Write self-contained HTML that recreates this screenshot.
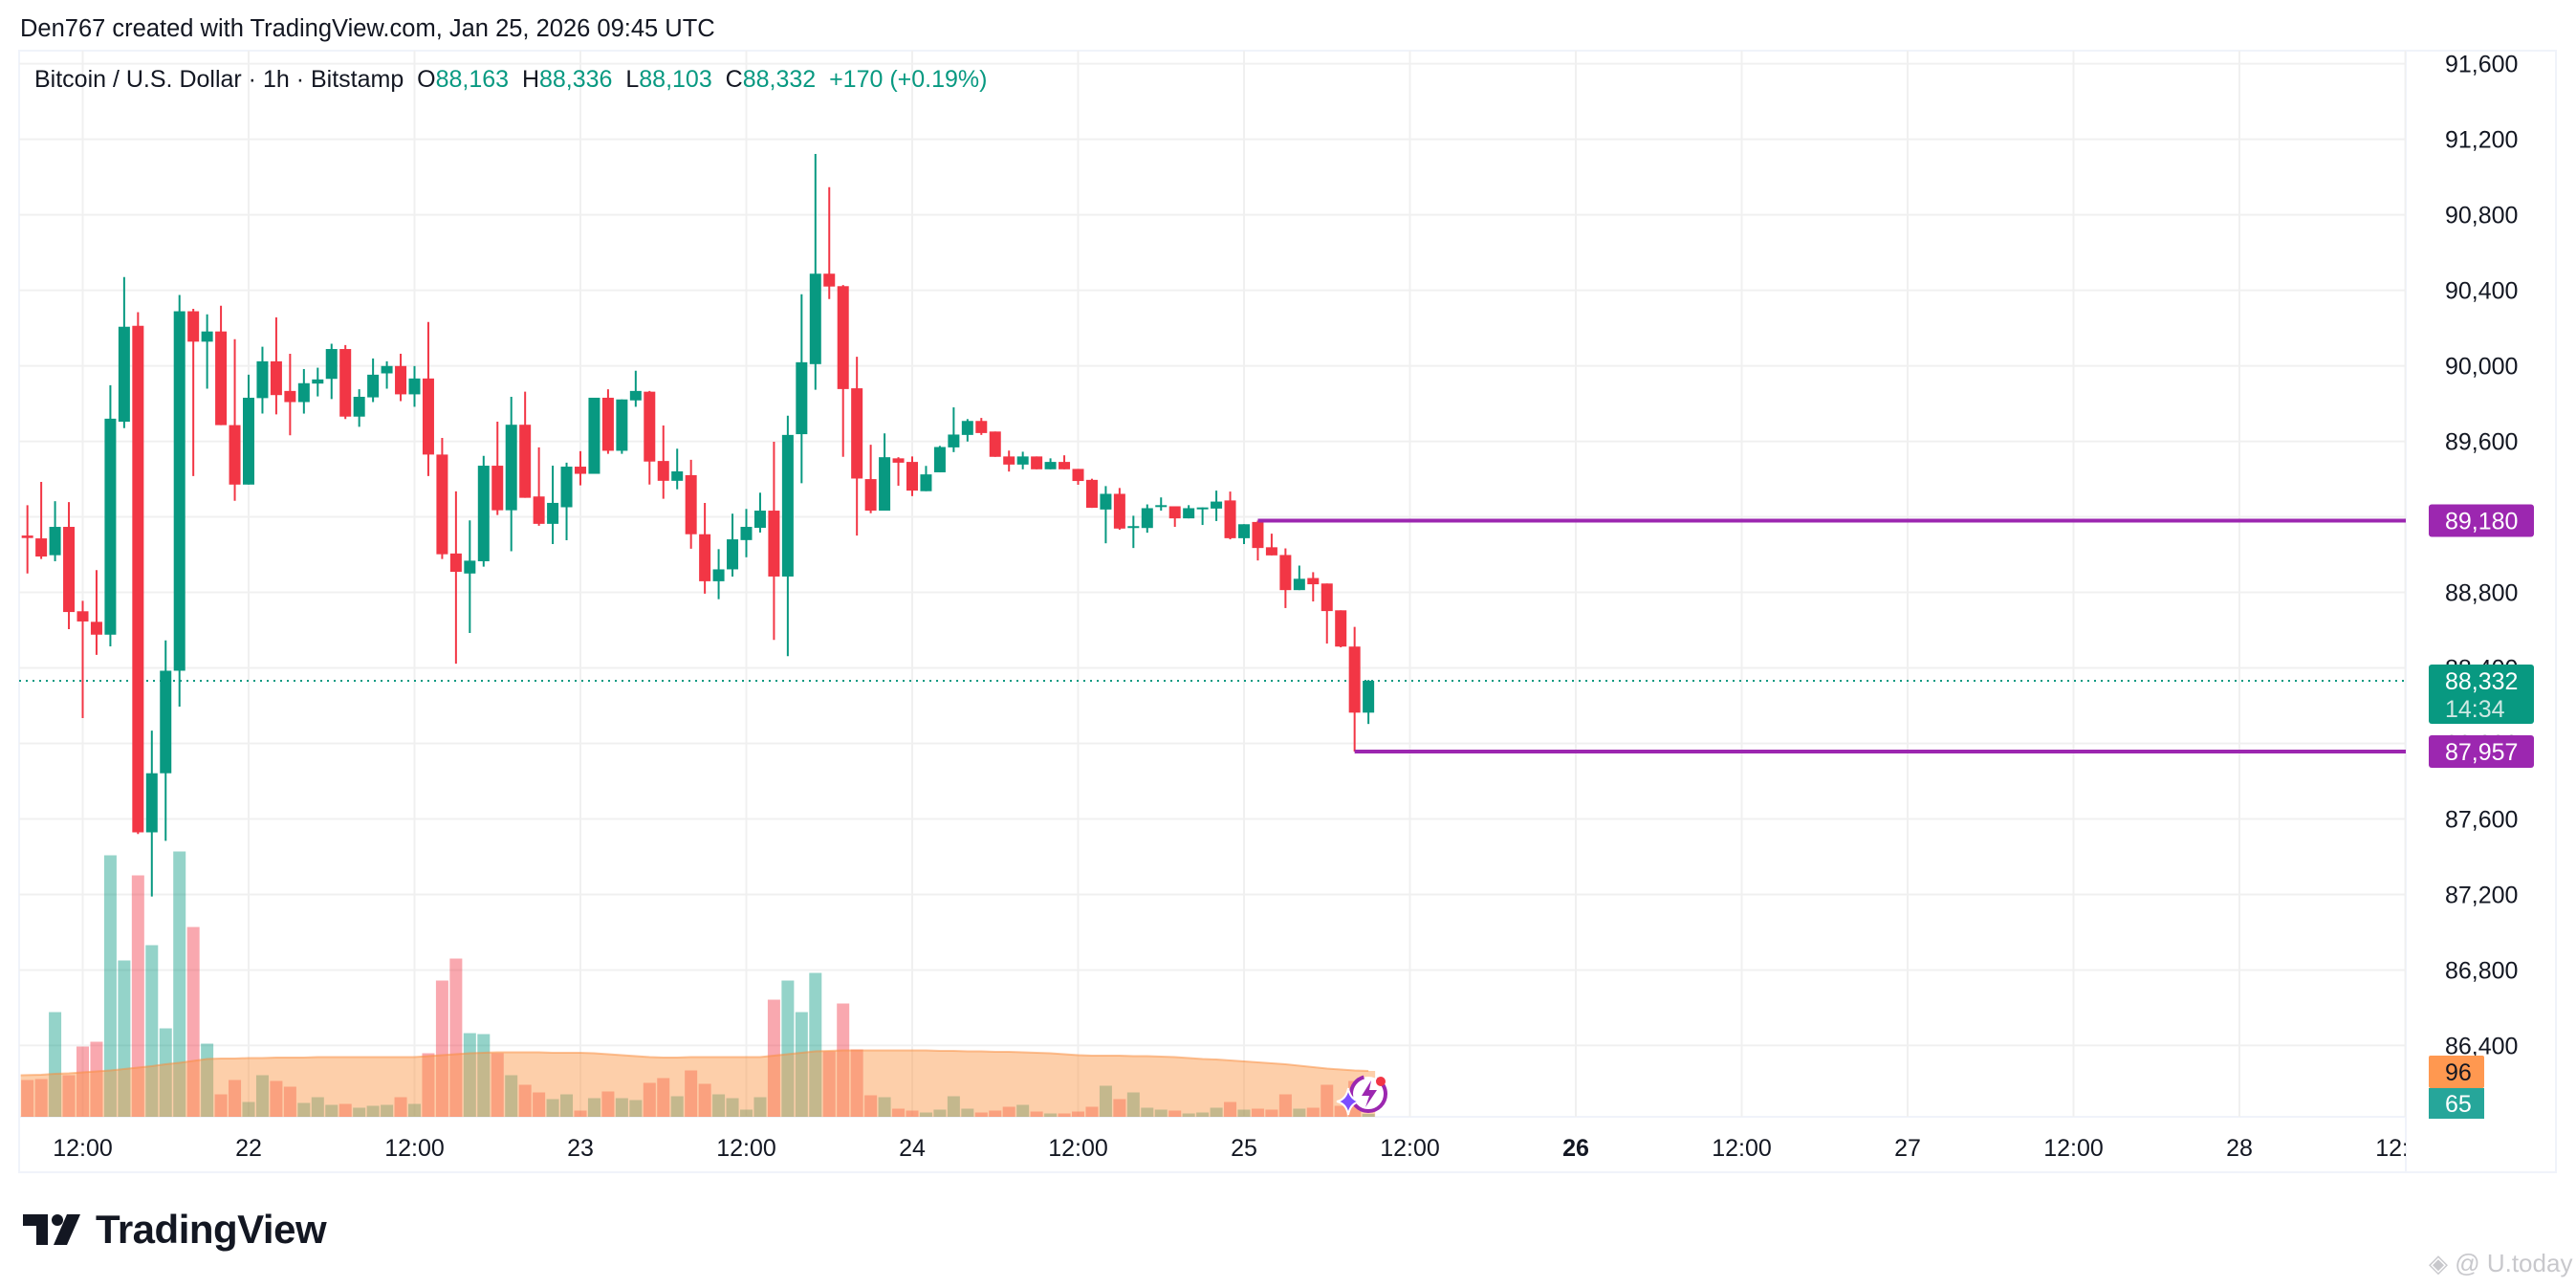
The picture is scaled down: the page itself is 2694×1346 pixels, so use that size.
<!DOCTYPE html>
<html><head><meta charset="utf-8"><title>BTCUSD 1h</title>
<style>
html,body{margin:0;padding:0;background:#fff;}
body{width:2694px;height:1346px;overflow:hidden;position:relative;font-family:"Liberation Sans",sans-serif;color:#131722;}
#hdr{position:absolute;left:21px;top:16px;font-size:25.5px;color:#131722;white-space:nowrap;}
#legend{position:absolute;left:36px;top:69px;font-size:25px;white-space:nowrap;}
#legend .g{color:#089981}
#logo{position:absolute;left:24px;top:1262px;display:flex;align-items:center;}
#logo span{font-size:42px;font-weight:bold;letter-spacing:-0.5px;margin-left:14px;}
#wm{position:absolute;left:2540px;top:1306px;font-size:26px;color:#c8c8cc;white-space:nowrap;}
</style></head><body>
<div id="hdr">Den767 created with TradingView.com, Jan 25, 2026 09:45 UTC</div>
<svg id="chart" width="2694" height="1346" style="position:absolute;left:0;top:0"></svg>
<div id="legend">Bitcoin / U.S. Dollar · 1h · Bitstamp&nbsp;&nbsp;O<span class="g">88,163</span>&nbsp;&nbsp;H<span class="g">88,336</span>&nbsp;&nbsp;L<span class="g">88,103</span>&nbsp;&nbsp;C<span class="g">88,332</span>&nbsp;&nbsp;<span class="g">+170 (+0.19%)</span></div>
<div id="logo">
<svg width="62" height="32" viewBox="0 0 62 32"><path d="M0 0H26V32H14V12H0Z" fill="#131722"/><circle cx="36" cy="6" r="6" fill="#131722"/><path d="M46 0H60L46 32H32Z" fill="#131722"/></svg><span>TradingView</span></div>
<div id="wm">◈ @ U.today</div>
<script>
const opens=[89101,89086,88997,89147,88700,88644,88576,89704,90212,87529,87842,88385,90289,90128,90182,89686,89371,89829,90024,89867,89808,89906,89931,90089,89731,89833,89960,89999,89849,89933,89530,89006,88900,88965,89471,89235,89688,89308,89163,89251,89466,89428,89831,89550,89817,89863,89496,89391,89421,89108,88859,88922,89077,89142,89233,88884,89638,90009,90488,90422,89881,89400,89233,89510,89491,89336,89436,89568,89634,89708,89652,89520,89477,89520,89452,89491,89454,89396,89239,89322,89144,89141,89258,89256,89192,89246,89244,89287,89087,89173,89039,88998,88812,88876,88847,88705,88513,88163];
const highs=[89262,89385,89283,89278,88755,88918,89897,90470,90284,88068,88546,90375,90302,90273,90318,90141,89953,90101,90257,90064,89983,89990,90117,90110,89876,90039,90024,90064,89999,90232,89618,89335,89181,89523,89704,89836,89863,89568,89471,89487,89548,89831,89876,89822,89974,89867,89684,89561,89502,89274,89029,89217,89242,89328,89598,89736,90379,91122,90946,90428,90048,89582,89642,89516,89520,89470,89576,89780,89718,89724,89652,89551,89545,89520,89510,89526,89454,89402,89363,89353,89206,89266,89303,89256,89262,89250,89339,89334,89161,89180,89111,89033,88942,88907,88847,88705,88617,88336];
const lows=[88900,88977,88965,88605,88134,88469,88514,89670,87520,87189,87484,88195,89416,89879,89686,89285,89371,89747,89743,89632,89747,89838,89824,89718,89677,89808,89879,89813,89783,89416,88977,88422,88585,88936,89210,89018,89301,89153,89056,89076,89367,89428,89534,89534,89783,89371,89296,89346,89031,88793,88764,88884,88986,89117,88548,88462,89378,89873,90354,89518,89101,89219,89233,89365,89310,89336,89436,89543,89599,89634,89518,89440,89452,89452,89452,89452,89370,89248,89060,89132,89035,89116,89233,89147,89192,89157,89178,89081,89056,88969,88996,88717,88812,88752,88529,88509,87957,88103];
const closes=[89088,88990,89147,88696,88646,88576,89720,90207,87529,87842,88385,90289,90128,90182,89686,89371,89831,90024,89845,89808,89908,89928,90089,89731,89836,89953,89999,89849,89933,89530,89002,88909,88968,89471,89235,89688,89301,89163,89274,89466,89428,89831,89550,89822,89867,89493,89391,89441,89108,88859,88922,89081,89147,89233,88884,89634,90019,90488,90420,89877,89403,89233,89516,89487,89339,89425,89570,89636,89708,89644,89518,89477,89520,89452,89491,89452,89390,89248,89322,89138,89151,89246,89262,89192,89246,89250,89281,89087,89161,89035,88996,88812,88872,88843,88701,88513,88163,88332];
const volumes=[77,79,219,87,147,157,547,327,505,359,185,555,397,153,47,77,31,87,75,63,29,41,25,27,19,23,25,41,27,133,285,331,175,173,133,87,67,51,37,47,13,39,53,39,35,71,81,43,97,69,47,39,15,41,245,285,219,301,137,237,141,45,41,17,13,9,15,43,17,9,13,21,25,11,7,7,11,21,65,37,51,19,15,13,7,9,19,31,15,17,15,47,17,19,67,23,75,6];
const volMA=[87,88,90,91,93,95,97,100,103,106,110,113,117,121,122,122,123,123,124,124,124,125,125,125,125,125,125,125,125,127,129,131,133,134,135,135,135,135,134,134,134,133,131,129,127,125,124,124,125,125,125,125,125,125,128,131,134,137,138,139,139,139,139,139,139,139,138,138,137,137,136,136,135,134,133,131,129,128,128,128,127,127,126,125,123,121,120,118,116,114,112,110,107,104,101,99,97,96];
const priceTicks=[91600,91200,90800,90400,90000,89600,89200,88800,88400,88000,87600,87200,86800,86400];
const timeTickHours=[12,24,36,48,60,72,84,96,108,120,132,144,156,168,180];
const timeTickLabels=["12:00","22","12:00","23","12:00","24","12:00","25","12:00","26","12:00","27","12:00","28","12:00"];
const firstHour=8; // Jan 21 08:00
const lastPrice=88332, levelHigh=89180, levelLow=87957, volLast=65, volMALast=96;

const NS="http://www.w3.org/2000/svg";
const svg=document.getElementById('chart');
const PL=20,PR=2516,PT=53,PB=1168,VB=1168;
const yP=p=>382.6-(p-90000)*0.19745;
const xH=h=>-87+14.4583*h;
const xI=i=>xH(firstHour+i);
const yV=v=>VB-v*0.5;
const GREEN="#089981",RED="#f23645";
function mk(tag,attrs,parent){const e=document.createElementNS(NS,tag);for(const k in attrs)e.setAttribute(k,attrs[k]);(parent||svg).appendChild(e);return e;}

const frame=mk('rect',{x:20,y:53,width:2653,height:1173,fill:'none',stroke:'#f0f3fa','stroke-width':2});


const clipDef=mk('clipPath',{id:'pane'});mk('rect',{x:PL,y:PT,width:PR-PL,height:PB-PT},clipDef);
const axLine=mk('line',{x1:PR,y1:PT,x2:PR,y2:1226,stroke:'#f0f3fa','stroke-width':2});


const tLine=mk('line',{x1:PL,y1:PB,x2:PR,y2:PB,stroke:'#f0f3fa','stroke-width':2});



const grid=mk('g',{'clip-path':'url(#pane)'});


priceTicks.forEach(p=>{const l=mk('line',{x1:PL,x2:PR,y1:yP(p),y2:yP(p),stroke:'#f0f0f0','stroke-width':2},grid);

});
timeTickHours.forEach(h=>{const l=mk('line',{x1:xH(h),x2:xH(h),y1:PT,y2:PB,stroke:'#f0f0f0','stroke-width':2},grid);

});

const vg=mk('g',{'clip-path':'url(#pane)'});


volumes.forEach((v,i)=>{const up=closes[i]>=opens[i];
const r=mk('rect',{x:xI(i)-6.5,y:yV(v),width:13,height:v*0.5,fill:up?'rgba(8,153,129,0.43)':'rgba(242,54,69,0.43)'},vg);

});
let d='M'+(xI(0)-7)+' '+VB;
volMA.forEach((v,i)=>{d+=' L'+(i===0?xI(0)-7:xI(i))+' '+yV(v);});
d+=' L'+(xI(volMA.length-1)+7)+' '+yV(volMA[volMA.length-1])+' L'+(xI(volMA.length-1)+7)+' '+VB+'Z';
const area=mk('path',{d:d,fill:'rgba(250,152,75,0.47)'},vg);


let d2='';volMA.forEach((v,i)=>{d2+=(i?' L':'M')+(i===0?xI(0)-7:xI(i))+' '+yV(v);});
const maLine=mk('path',{d:d2,fill:'none',stroke:'rgba(250,140,60,0.5)','stroke-width':2},vg);



const cpl=mk('line',{x1:PL,x2:PR,y1:yP(lastPrice),y2:yP(lastPrice),stroke:GREEN,'stroke-width':2,'stroke-dasharray':'2 5'});



const cg=mk('g',{'clip-path':'url(#pane)'});


opens.forEach((o,i)=>{const c=closes[i],up=c>=o,col=up?GREEN:RED,x=xI(i);
const w=mk('line',{x1:x,x2:x,y1:yP(highs[i]),y2:yP(lows[i]),stroke:col,'stroke-width':2},cg);


const top=yP(Math.max(o,c)),h=Math.max(2,Math.abs(yP(o)-yP(c)));
const b=mk('rect',{x:x-6,y:top,width:12,height:h,fill:col},cg);

});

const lh=mk('line',{x1:xI(89),x2:PR,y1:yP(levelHigh),y2:yP(levelHigh),stroke:'#9c27b0','stroke-width':4});


const ll=mk('line',{x1:xI(96),x2:PR,y1:yP(levelLow),y2:yP(levelLow),stroke:'#9c27b0','stroke-width':4});



priceTicks.forEach(p=>{const t=mk('text',{x:2557,y:yP(p)+9,'font-size':25,fill:'#131722','font-family':'Liberation Sans, sans-serif'});
t.textContent=p.toLocaleString('en-US');

});
function tag(y,h,bg,lines,name){const g=mk('g',{});


mk('rect',{x:2540,y:y,width:110,height:h,rx:3,fill:bg},g);
lines.forEach((l,k)=>{const t=mk('text',{x:2557,y:y+26+k*29,'font-size':25,fill:l[1],'font-family':'Liberation Sans, sans-serif'},g);t.textContent=l[0];});}
tag(yP(levelHigh)-17,34,'#9c27b0',[[levelHigh.toLocaleString('en-US'),'#fff']],'resistance-price-tag');
tag(yP(lastPrice)-17,62,GREEN,[[lastPrice.toLocaleString('en-US'),'#fff'],['14:34','#cfe9e4']],'current-price-tag');
tag(yP(levelLow)-17,34,'#9c27b0',[[levelLow.toLocaleString('en-US'),'#fff']],'support-price-tag');
const vt1=mk('g',{});
mk('rect',{x:2540,y:1104,width:58,height:34,rx:2,fill:'#ff9850'},vt1);
const vtt1=mk('text',{x:2557,y:1130,'font-size':25,fill:'#131722'},vt1);vtt1.textContent=String(volMALast);
const vt2=mk('g',{});
mk('rect',{x:2540,y:1138,width:58,height:32,fill:'#26a69a'},vt2);
const vtt2=mk('text',{x:2557,y:1163,'font-size':25,fill:'#fff'},vt2);vtt2.textContent=String(volLast);

const tclip=mk('clipPath',{id:'tax'});mk('rect',{x:PL,y:1170,width:PR-PL,height:56},tclip);
const tg=mk('g',{'clip-path':'url(#tax)'});


timeTickHours.forEach((h,k)=>{const t=mk('text',{x:xH(h),y:1209,'font-size':25,'text-anchor':'middle',fill:'#131722','font-weight':timeTickLabels[k]==='26'?'bold':'normal'},tg);
t.textContent=timeTickLabels[k];

});

const ic=mk('g',{});


mk('circle',{cx:1431,cy:1144,r:18,fill:'#fff',stroke:'#9c27b0','stroke-width':4,'stroke-dasharray':'80 14'},ic);
mk('path',{d:'M1434 1130 L1424 1146 L1432 1146 L1428 1158 L1440 1140 L1432 1140 Z',fill:'#9c27b0'},ic);
mk('path',{d:'M1410 1138 Q1412 1150 1422 1152 Q1412 1154 1410 1166 Q1408 1154 1398 1152 Q1408 1150 1410 1138Z',fill:'#7c4dff',stroke:'#fff','stroke-width':2},ic);
mk('circle',{cx:1444,cy:1131,r:5,fill:RED},ic);
</script>
</body></html>
